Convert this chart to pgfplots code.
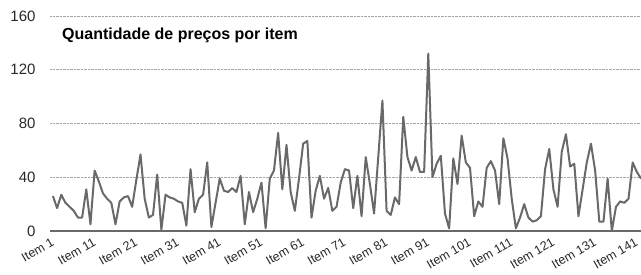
\documentclass[border=0pt]{standalone}
\usepackage{pgfplots}
\pgfplotsset{compat=1.18}
\usepackage{fontspec}
\setmainfont{Liberation Sans}
\definecolor{lineg}{RGB}{105,105,105}
\definecolor{txt}{RGB}{40,40,40}
\begin{document}
\begin{tikzpicture}
\begin{axis}[
  scale only axis,
  width=591pt, height=215pt,
  xmin=0.3, xmax=142, ymin=0, ymax=160,
  ytick={0,40,80,120,160},
  xtick={1,11,21,31,41,51,61,71,81,91,101,111,121,131,141},
  xticklabels={Item 1,Item 11,Item 21,Item 31,Item 41,Item 51,Item 61,Item 71,Item 81,Item 91,Item 101,Item 111,Item 121,Item 131,Item 141},
  separate axis lines,
  axis x line=bottom, axis y line=left,
  x axis line style={-, line width=1.6pt, color=lineg},
  y axis line style={draw=none},
  major tick length=0pt,
  ymajorgrids,
  grid style={densely dotted, gray!70, line width=0.7pt},
  /pgf/number format/assume math mode=true,
  yticklabel style={font=\fontsize{15}{15}\selectfont, text=txt, anchor=east, xshift=-11pt},
  xticklabel style={font=\fontsize{12.5}{12.5}\selectfont, text=txt, rotate=30, anchor=north east, xshift=-4pt, yshift=-3pt, inner sep=1pt},
  clip=false,
]
\addplot[lineg, line width=2pt, line join=round, mark=none] coordinates {
(1,26)(2,17)(3,27)(4,21)(5,18)(6,15)(7,10)(8,10)(9,31)(10,5)
(11,45)(12,37)(13,28)(14,24)(15,21)(16,5)(17,22)(18,25)(19,26)(20,18)
(21,38)(22,57)(23,24)(24,10)(25,12)(26,42)(27,1)(28,27)(29,25)(30,24)
(31,22)(32,21)(33,4)(34,46)(35,14)(36,24)(37,27)(38,51)(39,3)(40,21)
(41,39)(42,30)(43,29)(44,32)(45,29)(46,41)(47,5)(48,29)(49,14)(50,24)
(51,36)(52,2)(53,39)(54,45)(55,73)(56,31)(57,64)(58,29)(59,15)(60,39)
(61,65)(62,67)(63,10)(64,30)(65,41)(66,24)(67,32)(68,15)(69,18)(70,36)
(71,46)(72,45)(73,17)(74,41)(75,11)(76,55)(77,35)(78,13)(79,55)(80,97)
(81,15)(82,12)(83,25)(84,20)(85,85)(86,55)(87,45)(88,55)(89,44)(90,44)
(91,132)(92,40)(93,50)(94,56)(95,13)(96,2)(97,54)(98,35)(99,71)(100,51)
(101,47)(102,11)(103,22)(104,18)(105,47)(106,52)(107,45)(108,20)(109,69)(110,54)
(111,24)(112,2)(113,10)(114,20)(115,10)(116,7)(117,8)(118,11)(119,46)(120,61)
(121,31)(122,18)(123,59)(124,72)(125,48)(126,50)(127,11)(128,31)(129,51)(130,65)
(131,45)(132,7)(133,7)(134,39)(135,0)(136,18)(137,22)(138,21)(139,24)(140,51)
(141,44)(142,39)
};
\node[anchor=base west, inner sep=0pt, font=\bfseries\fontsize{16}{16}\selectfont, text=black]
  at ([xshift=12pt, yshift=-24pt]rel axis cs:0,1) {Quantidade de preços por item};
\end{axis}
\pgfresetboundingbox
\path[use as bounding box] ([xshift=-50pt, yshift=-44pt]current axis.south west) rectangle ([yshift=16pt]current axis.north east);
\end{tikzpicture}
\end{document}
